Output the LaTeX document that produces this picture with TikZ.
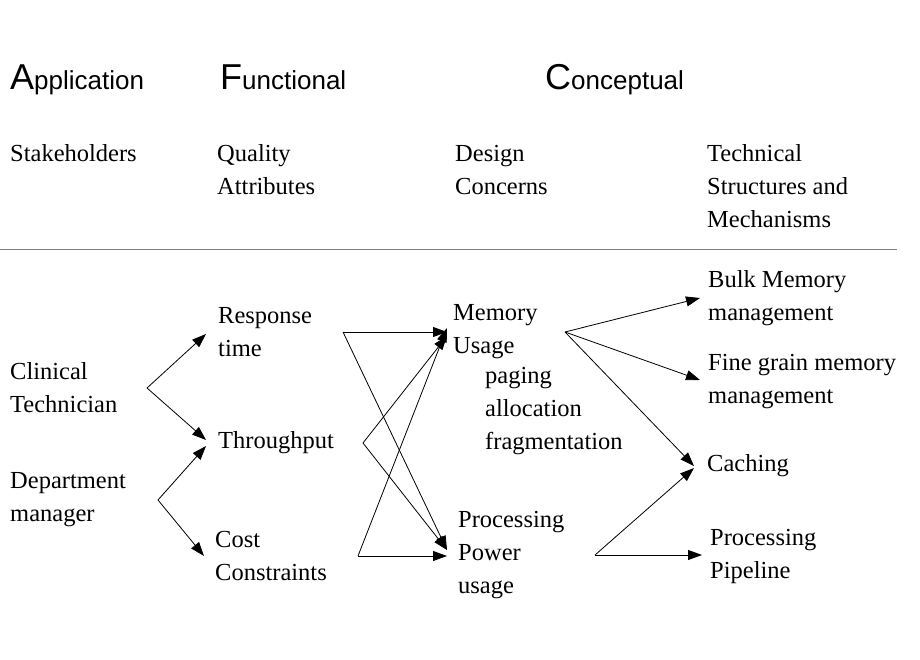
\documentclass[tikz,border=0pt]{standalone}
\usepackage{fontspec}
\setmainfont{Liberation Serif}
\newfontfamily\headfont{Liberation Sans}
\usetikzlibrary{arrows.meta}
\begin{document}
\begin{tikzpicture}[x=1pt,y=-1pt,
  txt/.style={anchor=west,align=left,inner sep=0pt,font=\fontsize{24.5}{33}\selectfont},
  head/.style={anchor=base west,inner sep=0pt,font=\headfont\fontsize{26}{28}\selectfont},
  arr/.style={-{Triangle[length=14pt,width=10pt]},line width=0.8pt}]
\useasboundingbox (0,0) rectangle (920,660);
%HEADINGS
\node[head] (app) at (10,90) {{\fontsize{36}{36}\selectfont A}pplication};
\node[head] (fun) at (220,90) {{\fontsize{36}{36}\selectfont F}unctional};
\node[head] (con) at (545,90) {{\fontsize{36}{36}\selectfont C}onceptual};
%COLUMNS
\node[txt] (stk) at (10,153) {Stakeholders};
\node[txt] (qa) at (217,170) {Quality\\Attributes};
\node[txt] (dc) at (455,170) {Design\\Concerns};
\node[txt] (tsm) at (707,186) {Technical\\Structures and\\Mechanisms};
\draw[gray] (0,249) -- (897,249);
%NODES
\node[txt] (clin) at (10,388) {Clinical\\Technician};
\node[txt] (dept) at (10,500) {Department\\manager};
\node[txt] (resp) at (218,332) {Response\\time};
\node[txt] (thr) at (218,443) {Throughput};
\node[txt] (cost) at (215,556) {Cost\\Constraints};
\node[txt] (mem) at (453,332) {Memory\\Usage};
\node[txt] (pag) at (485,411) {paging\\allocation\\fragmentation};
\node[txt] (proc) at (458,555) {Processing\\Power\\usage};
\node[txt] (bulk) at (708,298) {Bulk Memory\\management};
\node[txt] (fine) at (708,382) {Fine grain memory\\management};
\node[txt] (cach) at (707,466) {Caching};
\node[txt] (pipe) at (710,556) {Processing\\Pipeline};
%ARROWS
\coordinate (c1) at (147,388); \coordinate (c2) at (158,500);
\coordinate (r1) at (343,332); \coordinate (t1) at (363,443);
\coordinate (k1) at (358,556); \coordinate (m1) at (565,332);
\coordinate (p1) at (595,555);
\coordinate (mi) at (447,332); \coordinate (pi) at (447,550);
\draw[arr] (c1) -- (206,334);
\draw[arr] (c1) -- (206,440);
\draw[arr] (c2) -- (206,446);
\draw[arr] (c2) -- (204,556);
\draw[arr] (r1) -- (mi);
\draw[arr] (r1) -- (pi);
\draw[arr] (t1) -- (447,336);
\draw[arr] (t1) -- (pi);
\draw[arr] (k1) -- (447,556);
\draw[arr] (k1) -- (447,328);
\draw[arr] (m1) -- (700,298);
\draw[arr] (m1) -- (700,380);
\draw[arr] (m1) -- (694,466);
\draw[arr] (p1) -- (694,468);
\draw[arr] (p1) -- (702,555);
\end{tikzpicture}
\end{document}
